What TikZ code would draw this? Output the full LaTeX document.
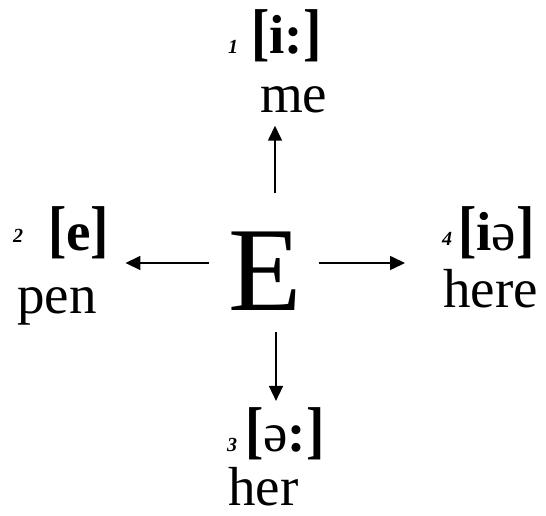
\documentclass[tikz,border=0pt]{standalone}
\usepackage{fontspec}
\usepackage{graphicx}
\setmainfont{Liberation Serif}
\usetikzlibrary{arrows.meta,positioning}

% small bold italic numbers in front of the sounds
\newcommand{\vnum}[1]{{\fontsize{20}{20}\selectfont\bfseries\itshape #1}}
% taller brackets round the sounds
\newcommand{\lbr}{\scalebox{1}[1.15]{[}}
\newcommand{\rbr}{\scalebox{1}[1.15]{]}}

\begin{document}
\begin{tikzpicture}[
    x=1pt, y=-1pt,
    every node/.style={inner sep=0pt},
    letter/.style={font=\fontsize{120}{120}\selectfont},
    sound/.style={anchor=base west, font=\fontsize{55}{60}\selectfont\bfseries},
    word/.style={anchor=base west, font=\fontsize{55}{60}\selectfont},
    arrow/.style={-{Triangle[length=15pt,width=14pt]}, line width=1.6pt}
]
\useasboundingbox (0,0) rectangle (546,516);

% Letter in the middle
\node[letter] (e) at (265,271) {E};

% Sounds and words
\node[sound] (s1) at (228,54) {\vnum{1}\hspace{13pt}\lbr i:\rbr};
\node[word]  (w1) at (260,113) {me};

\node[sound] (s2) at (13,250) {\raisebox{8pt}{\vnum{2}}\hspace{25pt}\lbr e\rbr};
\node[word]  (w2) at (17,313) {pen};

\node[sound] (s3) at (227,451) {\vnum{3}\hspace{8pt}\lbr\textmd{ə}:\rbr};
\node[word]  (w3) at (228,505) {her};

\node[sound] (s4) at (442,250) {\raisebox{5pt}{\vnum{4}}\hspace{6pt}\lbr i\textmd{ə}\rbr};
\node[word]  (w4) at (443,307) {here};

% Arrows
\draw[arrow, shorten <=39pt, shorten >=12pt] ([xshift=10pt]e.north) -- ([xshift=10pt]e.north |- w1.south);
\draw[arrow, shorten <=19pt, shorten >=16pt] ([yshift=8pt]e.west) -- ([yshift=8pt]e.west -| s2.east);
\draw[arrow, shorten <=22pt, shorten >=6pt] ([xshift=11pt]e.south) -- ([xshift=11pt]e.south |- s3.north);
\draw[arrow, shorten <=17pt, shorten >=37pt] ([yshift=8pt]e.east) -- ([yshift=8pt]e.east -| s4.west);

\end{tikzpicture}
\end{document}
